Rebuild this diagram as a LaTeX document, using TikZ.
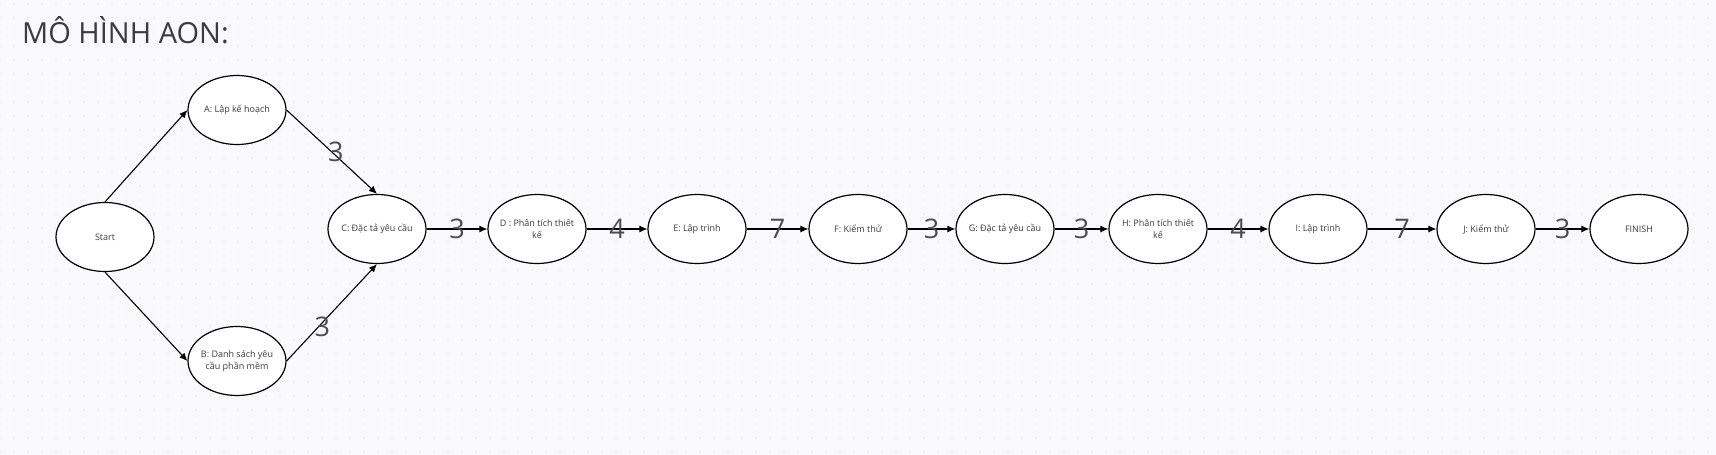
\documentclass[tikz,border=0pt]{standalone}
\usepackage{fontspec}
\setmainfont{Open Sans}
\usetikzlibrary{shapes.geometric,arrows.meta}
\definecolor{canvas}{RGB}{249,249,251}
\definecolor{griddot}{RGB}{218,218,224}
\definecolor{inktext}{RGB}{60,60,60}
\definecolor{weightgray}{RGB}{77,77,77}
\tikzset{
  task/.style={draw=black, line width=1.2pt, fill=white, ellipse,
    minimum width=98pt, minimum height=69pt, inner xsep=-14pt, inner ysep=0pt,
    font=\fontsize{9}{12.7}\selectfont, text=inktext, align=center},
  link/.style={line width=1.1pt, -{Latex[length=8pt,width=7pt]}},
  weight/.style={font=\fontsize{27}{27}\selectfont, text=weightgray, inner sep=0pt}
}

\begin{document}
\begin{tikzpicture}[x=1pt,y=-1pt]
  % canvas
  \fill[canvas] (0,0) rectangle (1716,455);
  \useasboundingbox (0,0) rectangle (1716,455);
  \foreach \gx in {0,14,...,1716} {
    \foreach \gy in {4,18,...,455} {
      \fill[griddot] (\gx,\gy) circle (0.7pt);
    }
  }
  \node[anchor=base west, inner sep=0pt, text=inktext,
    font=\fontsize{29}{29}\selectfont] (title) at (22,43) {MÔ HÌNH AON:};
  % tasks
  \node[task] (start) at (105,237) {Start};
  \node[task] (A) at (237,110) {A: Lập kế hoạch};
  \node[task] (B) at (237,361) {B: Danh sách yêu\\cầu phần mềm};
  \node[task] (C) at (377,229) {C: Đặc tả yêu cầu};
  \node[task] (D) at (537,229) {D : Phân tích thiết\\kế};
  \node[task] (E) at (697,229) {E: Lập trình};
  \node[task] (F) at (858,229) {F: Kiểm thử};
  \node[task] (G) at (1005,229) {G: Đặc tả yêu cầu};
  \node[task] (H) at (1158,229) {H: Phân tích thiết\\kế};
  \node[task] (I) at (1318,229) {I: Lập trình};
  \node[task] (J) at (1486,229) {J: Kiểm thử};
  \node[task] (finish) at (1639,229) {FINISH};
  % links
  \draw[link] (start.north) -- (A.west);
  \draw[link] (start.south) -- (B.west);
  \draw[link] (A.east) -- node[weight, xshift=4pt] {3} (C.north);
  \draw[link] (B.east) -- node[weight, pos=0.35, xshift=4pt] {3} (C.south);
  \draw[link] (C.east) -- node[weight] {3} (D.west);
  \draw[link] (D.east) -- node[weight] {4} (E.west);
  \draw[link] (E.east) -- node[weight] {7} (F.west);
  \draw[link] (F.east) -- node[weight] {3} (G.west);
  \draw[link] (G.east) -- node[weight] {3} (H.west);
  \draw[link] (H.east) -- node[weight] {4} (I.west);
  \draw[link] (I.east) -- node[weight] {7} (J.west);
  \draw[link] (J.east) -- node[weight] {3} (finish.west);
\end{tikzpicture}
\end{document}
